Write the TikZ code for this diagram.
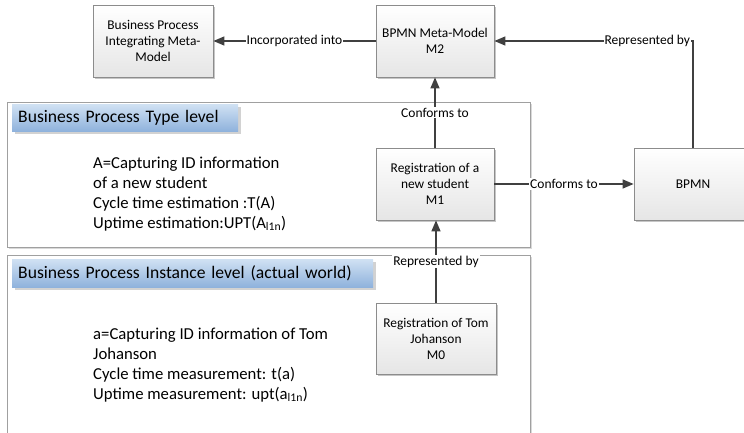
\documentclass[tikz,border=0pt]{standalone}
\usepackage{fontspec}
\setmainfont{Carlito}
\usetikzlibrary{arrows.meta,shadows}
\definecolor{edge}{HTML}{404040}
\definecolor{boxline}{HTML}{8C8C8C}
\definecolor{frameline}{HTML}{A0A0A0}
\definecolor{bannertop}{HTML}{D0E1F3}
\definecolor{bannerbot}{HTML}{8FB2DC}
\begin{document}
\begin{tikzpicture}[x=1pt,y=-1pt,
  model/.style={draw=boxline, line width=0.8pt, top color=white, bottom color=gray!20,
    minimum width=118pt, minimum height=72pt, align=center, inner sep=2pt,
    font=\fontsize{13.4}{16}\selectfont,
    general shadow={fill=gray!45, shadow xshift=2pt, shadow yshift=-2pt}},
  frame/.style={draw=frameline, line width=0.8pt, fill=white},
  framebg/.style={fill=gray!30},
  banner/.style={anchor=north west, top color=bannertop, bottom color=bannerbot,
    draw=none, inner xsep=6pt, inner ysep=0pt, align=left,
    font=\fontsize{17.6}{20}\selectfont,
    general shadow={fill=gray!35, shadow xshift=2.5pt, shadow yshift=-2.5pt}},
  body/.style={anchor=north west, align=left, inner sep=0pt,
    font=\fontsize{16.7}{20}\selectfont},
  link/.style={draw=edge, line width=1.3pt, -{Triangle[length=11pt,width=9pt]}},
  tag/.style={fill=white, inner sep=1pt, font=\fontsize{13.5}{15}\selectfont}
]
\useasboundingbox (0,0) rectangle (744,432);
\clip (0,0) rectangle (744,432);

% level frames
\fill[framebg] (9,104) rectangle (532,249);
\draw[frame] (7,102) rectangle (530,247);
\fill[framebg] (9,257) rectangle (532,440);
\draw[frame] (7,255) rectangle (530,440);

% level banners
\node[banner, minimum width=226pt, minimum height=27pt, text width=214pt]
  (typeban) at (12,104) {Business Process Type level};
\node[banner, minimum width=361pt, minimum height=28pt, text width=349pt]
  (instban) at (12,259) {Business Process Instance level (actual world)};

% level descriptions
\node[body] (typetxt) at (93,156.5) {A=Capturing ID information\\of a new student\\Cycle time estimation :T(A)\\Uptime estimation:UPT(A\textsubscript{l1n})};
\node[body] (insttxt) at (93,327.5) {a=Capturing ID information of Tom\\Johanson\\Cycle time measurement: t(a)\\Uptime measurement: upt(a\textsubscript{l1n})};

% models
\node[model, minimum width=120pt] (bpimm) at (153,41) {Business Process\\Integrating Meta-\\Model};
\node[model] (m2) at (435,41) {BPMN Meta-Model\\M2};
\node[model] (m1) at (435,184) {Registration of a\\new student\\M1};
\node[model] (bpmn) at (693,184) {BPMN};
\node[model, minimum width=120pt, minimum height=71pt] (m0) at (436,338.5) {Registration of Tom\\Johanson\\M0};

% relations
\draw[link] (m2.west) -- node[tag] {Incorporated into} (bpimm.east);
\draw[link] (bpmn.north) |- node[tag, pos=0.615] {Represented by} (m2.east);
\draw[link] (m1.north) -- node[tag] {Conforms to} (m2.south);
\draw[link] (m1.east) -- node[tag] {Conforms to} (bpmn.west);
\draw[link] (m0.north) -- node[tag] {Represented by} (m0.north |- m1.south);
\end{tikzpicture}
\end{document}
